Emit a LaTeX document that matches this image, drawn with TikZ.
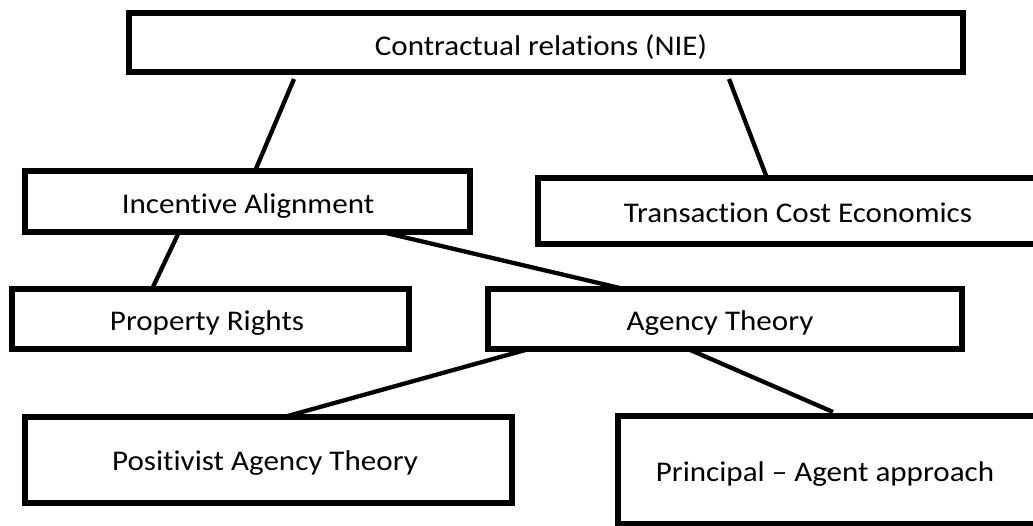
\documentclass[tikz,border=0pt]{standalone}
\usepackage{fontspec}
\setmainfont{Carlito}[FakeStretch=1.09, Ligatures={TeX,NoCommon}]
\begin{document}
\begin{tikzpicture}[x=1pt,y=-1pt,
  box/.style={draw=black, line width=5.5pt, fill=white, inner sep=0pt, outer sep=0pt,
              anchor=north west, minimum width=#1},
  lbl/.style={inner sep=0pt, anchor=base, font=\fontsize{28.5}{32}\selectfont},
  link/.style={draw=black, line width=4.3pt}]
  \useasboundingbox (0,0) rectangle (1033,525);
  \clip (0,0) rectangle (1033,525);

  % boxes (path rectangles, measured on the line centre)
  \node[box=834pt, minimum height=59pt] (nie) at (129,13) {};
  \node[box=445pt, minimum height=61pt] (ia)  at (25,171) {};
  \node[box=510pt, minimum height=66pt] (tce) at (538,178) {};
  \node[box=397pt, minimum height=60pt] (pr)  at (12,289) {};
  \node[box=474pt, minimum height=60pt] (at)  at (488,289) {};
  \node[box=487pt, minimum height=86pt] (pat) at (25,417) {};
  \node[box=430pt, minimum height=108pt] (pa) at (618,416) {};

  % captions
  \node[lbl] (nie-t) at (541,55)  {Contractual relations (NIE)};
  \node[lbl] (ia-t)  at (248,213) {Incentive Alignment};
  \node[lbl] (tce-t) at (798,222) {Transaction Cost Economics};
  \node[lbl] (pr-t)  at (207,330) {Property Rights};
  \node[lbl] (at-t)  at (720,330) {Agency Theory};
  \node[lbl] (pat-t) at (265,470) {Positivist Agency Theory};
  \node[lbl] (pa-t)  at (825,481) {Principal \textendash{} Agent approach};

  % connectors
  \draw[link] ([shift={(165,7)}]nie.south west) -- ([xshift=230]ia.north west);
  \draw[link] ([shift={(600,7)}]nie.south west) -- ([xshift=229]tce.north west);
  \draw[link] ([xshift=154]ia.south west) -- ([xshift=140]pr.north west);
  \draw[link] ([xshift=357]ia.south west) -- ([xshift=136]at.north west);
  \draw[link] ([xshift=41]at.south west) -- ([xshift=259]pat.north west);
  \draw[link] ([xshift=200]at.south west) -- ([shift={(215,-4)}]pa.north west);
\end{tikzpicture}
\end{document}
